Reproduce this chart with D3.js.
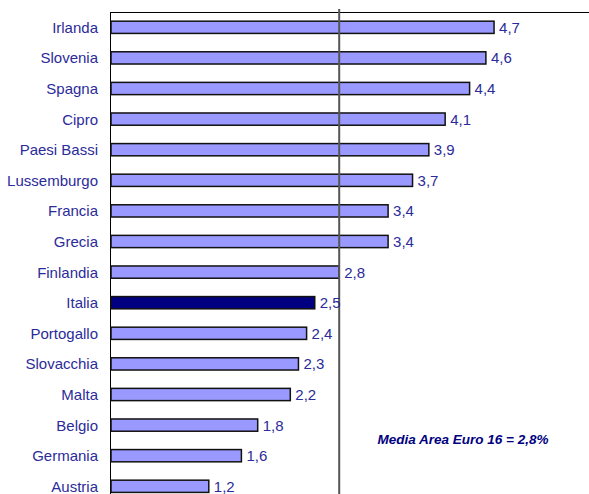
<!DOCTYPE html>
<html>
<head>
<meta charset="utf-8">
<script src="https://cdn.jsdelivr.net/npm/d3@7"></script>
<style>
  body { margin: 0; background: #fff; }
  svg { display: block; }
</style>
</head>
<body>
<svg id="chart" width="589" height="494"></svg>
<script>
// data, top to bottom
const countries = ["Irlanda", "Slovenia", "Spagna", "Cipro", "Paesi Bassi", "Lussemburgo", "Francia", "Grecia",
  "Finlandia", "Italia", "Portogallo", "Slovacchia", "Malta", "Belgio", "Germania", "Austria"];
const values = [4.7, 4.6, 4.4, 4.1, 3.9, 3.7, 3.4, 3.4, 2.8, 2.5, 2.4, 2.3, 2.2, 1.8, 1.6, 1.2];
const highlight = "Italia";
const average = 2.8;
const averageLabel = "Media Area Euro 16 = 2,8%";

const svg = d3.select("#chart");
const plotLeft = 111, plotTop = 12;
const step = 30.6;

const x = d3.scaleLinear().domain([0, 5.9]).range([plotLeft, plotLeft + 5.9 * 81.5]);
const y = d3.scaleBand().domain(countries)
  .range([plotTop, plotTop + step * countries.length])
  .paddingInner(0.6).paddingOuter(0.3);

const fmt = v => d3.format(".1f")(v).replace(".", ",");
const textCol = "#2b2b9a";
const font = "Liberation Sans, Arial, sans-serif";

// plot frame: top and left edges
svg.append("line")
  .attr("x1", plotLeft - 0.5).attr("x2", 589)
  .attr("y1", plotTop + 0.5).attr("y2", plotTop + 0.5)
  .attr("stroke", "#000").attr("stroke-width", 1);
svg.append("line")
  .attr("x1", plotLeft - 0.5).attr("x2", plotLeft - 0.5)
  .attr("y1", plotTop).attr("y2", 494)
  .attr("stroke", "#000").attr("stroke-width", 1);

// bars
svg.selectAll("rect.bar")
  .data(countries)
  .join("rect")
  .attr("class", "bar")
  .attr("x", plotLeft)
  .attr("y", d => y(d))
  .attr("width", (d, i) => x(values[i]) - plotLeft)
  .attr("height", y.bandwidth())
  .attr("fill", d => d === highlight ? "#000080" : "#9999ff")
  .attr("stroke", "#111")
  .attr("stroke-width", 1.5);

// average line
svg.append("line")
  .attr("x1", x(average)).attr("x2", x(average))
  .attr("y1", plotTop - 3).attr("y2", 494)
  .attr("stroke", "#555").attr("stroke-width", 2);

// category labels
svg.selectAll("text.cat")
  .data(countries)
  .join("text")
  .attr("class", "cat")
  .attr("x", 98)
  .attr("y", d => y(d) + y.bandwidth() / 2)
  .attr("dy", "0.36em")
  .attr("text-anchor", "end")
  .attr("font-family", font)
  .attr("font-size", 15)
  .attr("fill", textCol)
  .text(d => d);

// value labels
svg.selectAll("text.val")
  .data(countries)
  .join("text")
  .attr("class", "val")
  .attr("x", (d, i) => x(values[i]) + 5)
  .attr("y", d => y(d) + y.bandwidth() / 2)
  .attr("dy", "0.36em")
  .attr("font-family", font)
  .attr("font-size", 15)
  .attr("fill", textCol)
  .text((d, i) => fmt(values[i]));

// annotation
svg.append("text")
  .attr("x", 463)
  .attr("y", 439)
  .attr("dy", "0.35em")
  .attr("text-anchor", "middle")
  .attr("font-family", font)
  .attr("font-size", 13.5)
  .attr("font-weight", "bold")
  .attr("font-style", "italic")
  .attr("fill", "#000080")
  .text(averageLabel);
</script>
</body>
</html>
